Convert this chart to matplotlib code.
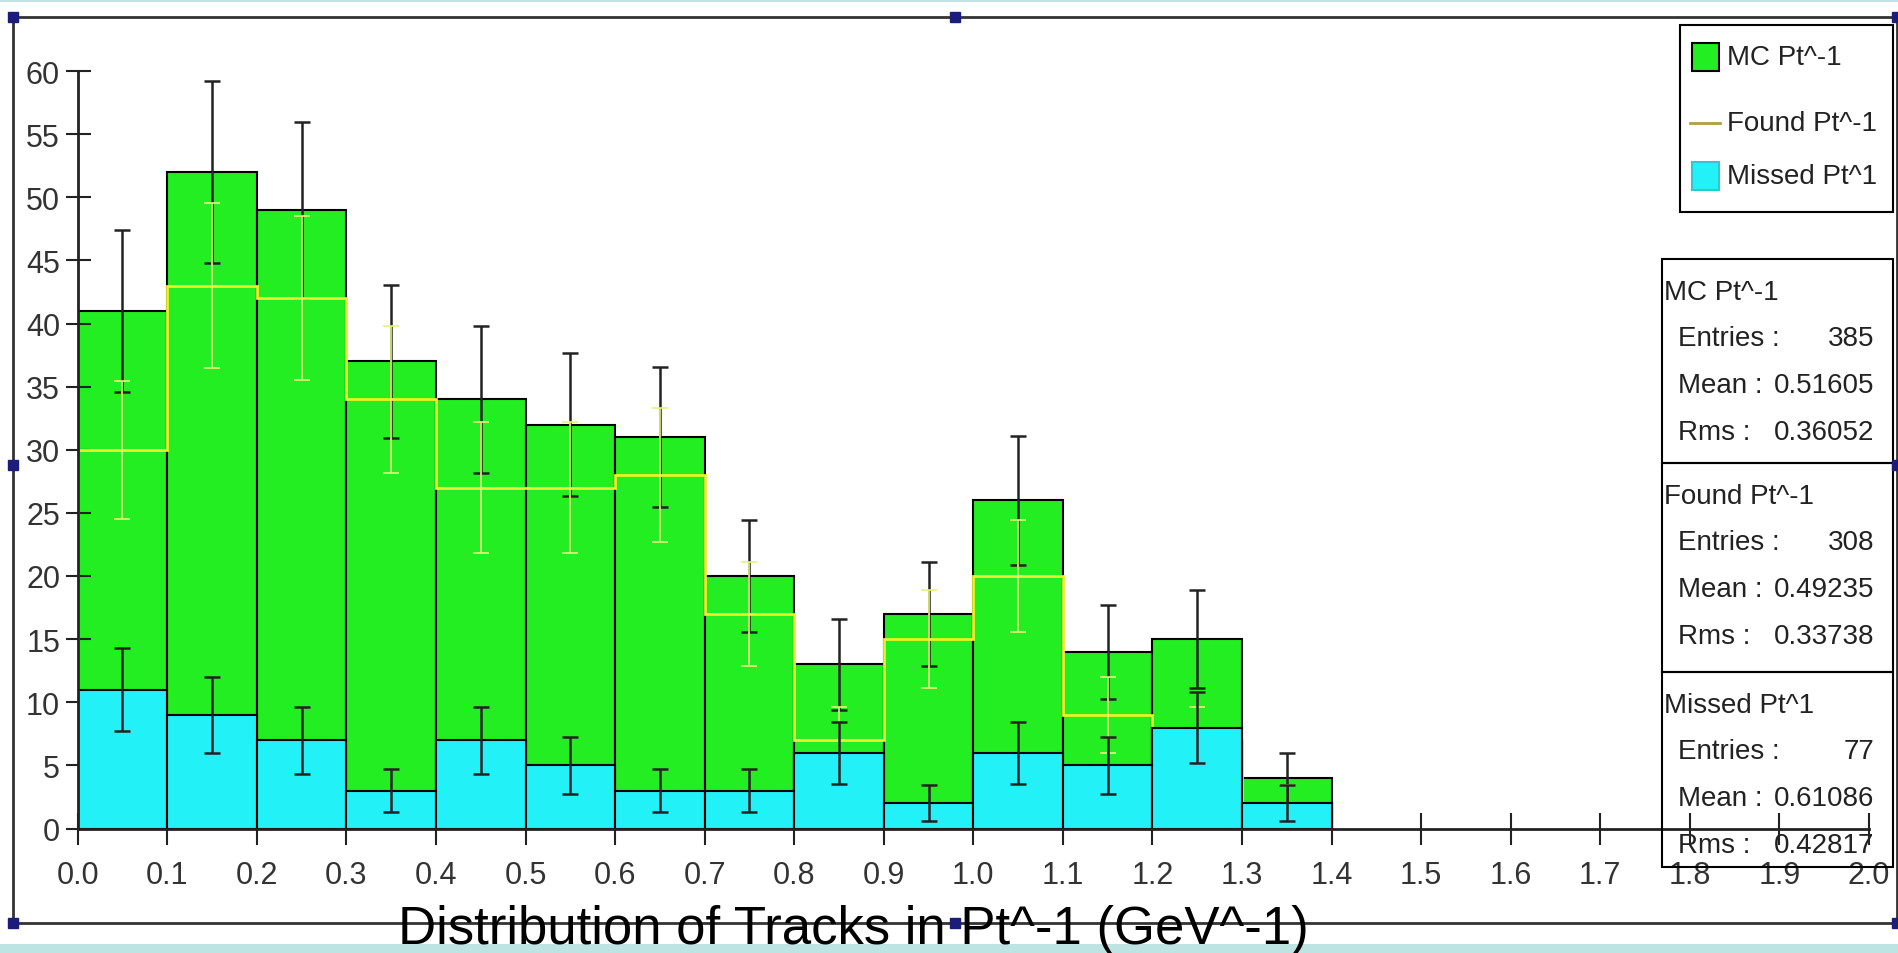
import numpy as np
import matplotlib.pyplot as plt
from matplotlib.patches import Rectangle
from matplotlib.lines import Line2D

plt.rcParams['font.family'] = ['Liberation Sans Narrow', 'Liberation Sans', 'DejaVu Sans']

# --- histogram contents (bins of 0.1 in Pt^-1, starting at 0.0) ---
bin_width = 0.1
mc_counts = [41, 52, 49, 37, 34, 32, 31, 20, 13, 17, 26, 14, 15, 4]
found_counts = [30, 43, 42, 34, 27, 27, 28, 17, 7, 15, 20, 9, 7, 2]
missed_counts = [11, 9, 7, 3, 7, 5, 3, 3, 6, 2, 6, 5, 8, 2]

x_ticks = np.round(np.arange(0, 2.01, 0.1), 1)
y_ticks = list(range(0, 61, 5))

legend_labels = ['MC Pt^-1', 'Found Pt^-1', 'Missed Pt^1']
stat_titles = ['MC Pt^-1', 'Found Pt^-1', 'Missed Pt^1']
stat_entries = ['385', '308', '77']
stat_means = ['0.51605', '0.49235', '0.61086']
stat_rms = ['0.36052', '0.33738', '0.42817']

title = 'Distribution of Tracks in Pt^-1 (GeV^-1)'

GREEN = '#22ee22'
CYAN = '#22f2f8'
YELLOW = '#eaf02a'
FOUND_ERR = '#e4f27a'
AXIS = '#222222'

W, H = 1899, 954


def fx(x):
    return x / W


def fy(y):
    return 1 - y / H


fig = plt.figure(figsize=(W / 100, H / 100), dpi=100)
fig.patch.set_facecolor('white')

# thin coloured strips at the very top and bottom of the screenshot
fig.add_artist(Rectangle((0, fy(3)), 1, fy(0) - fy(3), transform=fig.transFigure,
                         facecolor='#bde3e3', edgecolor='none'))
fig.add_artist(Rectangle((0, 0), 1, fy(945), transform=fig.transFigure,
                         facecolor='#bde3e3', edgecolor='none'))

# outer frame with selection handles
frame = dict(color='#333333', lw=2, transform=fig.transFigure)
fig.add_artist(Line2D([fx(13), fx(1897)], [fy(18), fy(18)], **frame))
fig.add_artist(Line2D([fx(13), fx(1897)], [fy(924), fy(924)], **frame))
fig.add_artist(Line2D([fx(13), fx(13)], [fy(18), fy(924)], **frame))
fig.add_artist(Line2D([fx(1897), fx(1897)], [fy(18), fy(924)], **frame))
for hx, hy in [(13, 18), (955, 18), (1897, 18), (13, 466), (1897, 466),
               (13, 924), (955, 924), (1897, 924)]:
    fig.add_artist(Rectangle((fx(hx - 5), fy(hy + 5)), fx(10), 10 / H,
                             transform=fig.transFigure, facecolor='#1c1c7a',
                             edgecolor='#1c1c7a', zorder=20))

ax = fig.add_axes([fx(77.7), fy(829.5), fx(1869) - fx(77.7), fy(72) - fy(829.5)])
ax.set_facecolor('white')

n_bins = len(mc_counts)
edges = np.arange(n_bins + 1) * bin_width
centers = edges[:-1] + bin_width / 2
mc = np.array(mc_counts, dtype=float)
found = np.array(found_counts, dtype=float)
missed = np.array(missed_counts, dtype=float)

ax.bar(centers, mc, width=bin_width, color=GREEN, edgecolor='black', linewidth=1.5, zorder=1)
ax.errorbar(centers, mc, yerr=np.sqrt(mc), fmt='none', ecolor=AXIS, elinewidth=1.8,
            capsize=6, capthick=1.8, zorder=2)

ax.stairs(found, edges, baseline=0, color=YELLOW, linewidth=2, zorder=3)
ax.errorbar(centers, found, yerr=np.sqrt(found), fmt='none', ecolor=FOUND_ERR,
            elinewidth=1.2, capsize=6, capthick=1.2, zorder=3)

ax.bar(centers, missed, width=bin_width, color=CYAN, edgecolor='black', linewidth=1.5, zorder=4)
ax.errorbar(centers, missed, yerr=np.sqrt(missed), fmt='none', ecolor=AXIS, elinewidth=1.8,
            capsize=6, capthick=1.8, zorder=5)

ax.set_xlim(0, 2.0)
ax.set_ylim(0, 60)
for side in ['top', 'right']:
    ax.spines[side].set_visible(False)
for side in ['left', 'bottom']:
    ax.spines[side].set_linewidth(2)
    ax.spines[side].set_color(AXIS)
    ax.spines[side].set_zorder(10)

ax.set_xticks(x_ticks)
ax.set_xticklabels([f'{v:.1f}' for v in x_ticks])
ax.set_yticks(y_ticks)
ax.tick_params(axis='x', direction='inout', length=23, width=1.5, color=AXIS,
               pad=11, labelsize=22, labelcolor='#333333')
ax.tick_params(axis='y', direction='inout', length=18, width=1.5, color=AXIS,
               pad=3.7, labelsize=22, labelcolor='#333333')

# legend box
fig.add_artist(Rectangle((fx(1680), fy(213)), fx(1893) - fx(1680), fy(26) - fy(213),
                         transform=fig.transFigure, facecolor='white',
                         edgecolor='black', lw=1.5))
rows = [58, 124, 177]
fig.add_artist(Rectangle((fx(1692), fy(rows[0] + 14)), fx(27), 28 / H,
                         transform=fig.transFigure, facecolor=GREEN,
                         edgecolor='black', lw=1.5))
fig.add_artist(Line2D([fx(1690), fx(1720)], [fy(rows[1]), fy(rows[1])],
                      color='#b0a040', lw=2, transform=fig.transFigure))
fig.add_artist(Rectangle((fx(1692), fy(rows[2] + 14)), fx(27), 28 / H,
                         transform=fig.transFigure, facecolor=CYAN,
                         edgecolor='#30c8d0', lw=1.5))
for label, ry in zip(legend_labels, rows):
    fig.text(fx(1727), fy(ry), label, fontsize=20, va='center', ha='left', color='#222222')

# statistics boxes
box_tops = [260, 464, 673]
box_bottoms = [464, 673, 868]
for i in range(3):
    top, bot = box_tops[i], box_bottoms[i]
    fig.add_artist(Rectangle((fx(1662), fy(bot)), fx(1893) - fx(1662), fy(top) - fy(bot),
                             transform=fig.transFigure, facecolor='none',
                             edgecolor='black', lw=1.5, zorder=15))
    fig.text(fx(1664), fy(top + 33), stat_titles[i], fontsize=20, va='center', ha='left',
             color='#222222')
    lines = [('Entries :', stat_entries[i]), ('Mean :', stat_means[i]), ('Rms :', stat_rms[i])]
    for j, (name, value) in enumerate(lines):
        yy = fy(top + 79 + 47 * j)
        fig.text(fx(1678), yy, name, fontsize=20, va='center', ha='left', color='#222222')
        fig.text(fx(1874), yy, value, fontsize=20, va='center', ha='right', color='#222222')

fig.text(fx(853), fy(944), title, fontsize=38, ha='center', va='baseline', color='black',
         zorder=30)

fig.savefig('out.png', dpi=100)
